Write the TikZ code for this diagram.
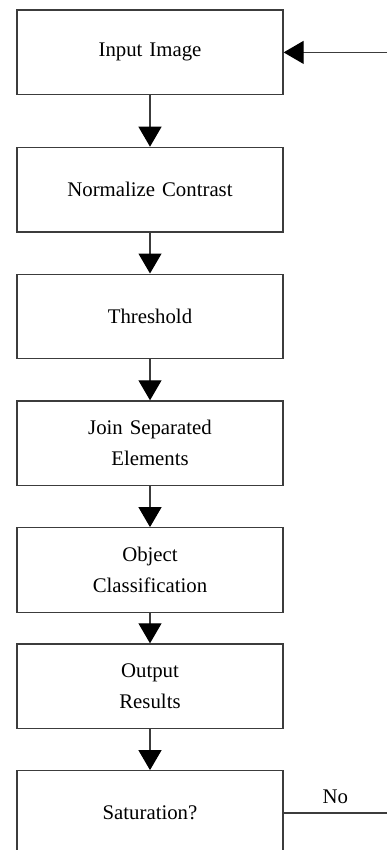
\documentclass[tikz,border=0pt]{standalone}
\usepackage{fontspec}
\setmainfont{Liberation Serif}
\usepackage{tikz}
\usetikzlibrary{arrows.meta, positioning}
\definecolor{frameline}{RGB}{60, 60, 60}

\begin{document}
\begin{tikzpicture}[
  node distance=20.5pt,
  every node/.style={font=\fontsize{10.4}{15.5}\selectfont},
  box/.style={
    draw=frameline, line width=0.65pt, fill=white,
    minimum width=133pt, minimum height=42.25pt,
    text width=120pt, align=center, inner sep=0pt
  },
  arrow/.style={-{Triangle[length=10pt, width=11.5pt, black]}, line width=0.6pt, draw=frameline},
  label/.style={inner sep=4.5pt}
]

  \useasboundingbox (0,0) rectangle (193.5pt,-425pt);

  % Colonna delle fasi
  \node[box] (input) at (75pt,-26.2pt) {Input Image};
  \node[box, below=25.7pt of input] (norm) {Normalize Contrast};
  \node[box, below=of norm] (thresh) {Threshold};
  \node[box, below=of thresh] (join) {Join Separated\\Elements};
  \node[box, below=of join] (classif) {Object\\Classification};
  \node[box, below=15.2pt of classif] (output) {Output\\Results};
  \node[box, below=of output] (satur) {Saturation?};

  % Estremi liberi a destra
  \coordinate (feed) at (193.5pt,-26.2pt);
  \coordinate (noend) at (193.5pt,0 |- satur.east);

  % Frecce verticali
  \draw[arrow] (input) -- (norm);
  \draw[arrow] (norm) -- (thresh);
  \draw[arrow] (thresh) -- (join);
  \draw[arrow] (join) -- (classif);
  \draw[arrow] (classif) -- (output);
  \draw[arrow] (output) -- (satur);

  % Ritorno
  \draw[arrow] (feed) -- (input.east);
  \draw[line width=0.6pt, draw=frameline] (satur.east) -- (noend)
    node[label, midway, above] {No};

\end{tikzpicture}
\end{document}
